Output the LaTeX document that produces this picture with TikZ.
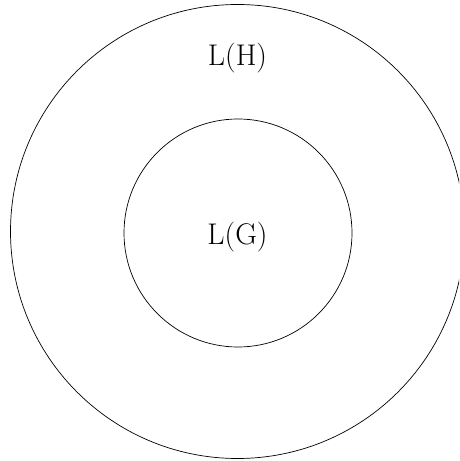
\documentclass[tikz,border=0pt]{standalone}
\usepackage{amsmath}
\usepackage{amssymb}
\usepackage{tikz}

\begin{document}
\begin{tikzpicture}[scale=1.0]
			\useasboundingbox (-4.75,-4.59) rectangle (4.43,4.63);
			\clip (-4.75,-4.59) rectangle (4.43,4.63);
			\draw (0,0) circle (4.54);
			\draw (0.01,-0.03) circle (2.28);
			\node (lh) at (0,3.47) {\fontsize{17}{20}\selectfont L(H)};
			\node (lg) at (0,-0.11) {\fontsize{17}{20}\selectfont L(G)};
		\end{tikzpicture}
\end{document}
